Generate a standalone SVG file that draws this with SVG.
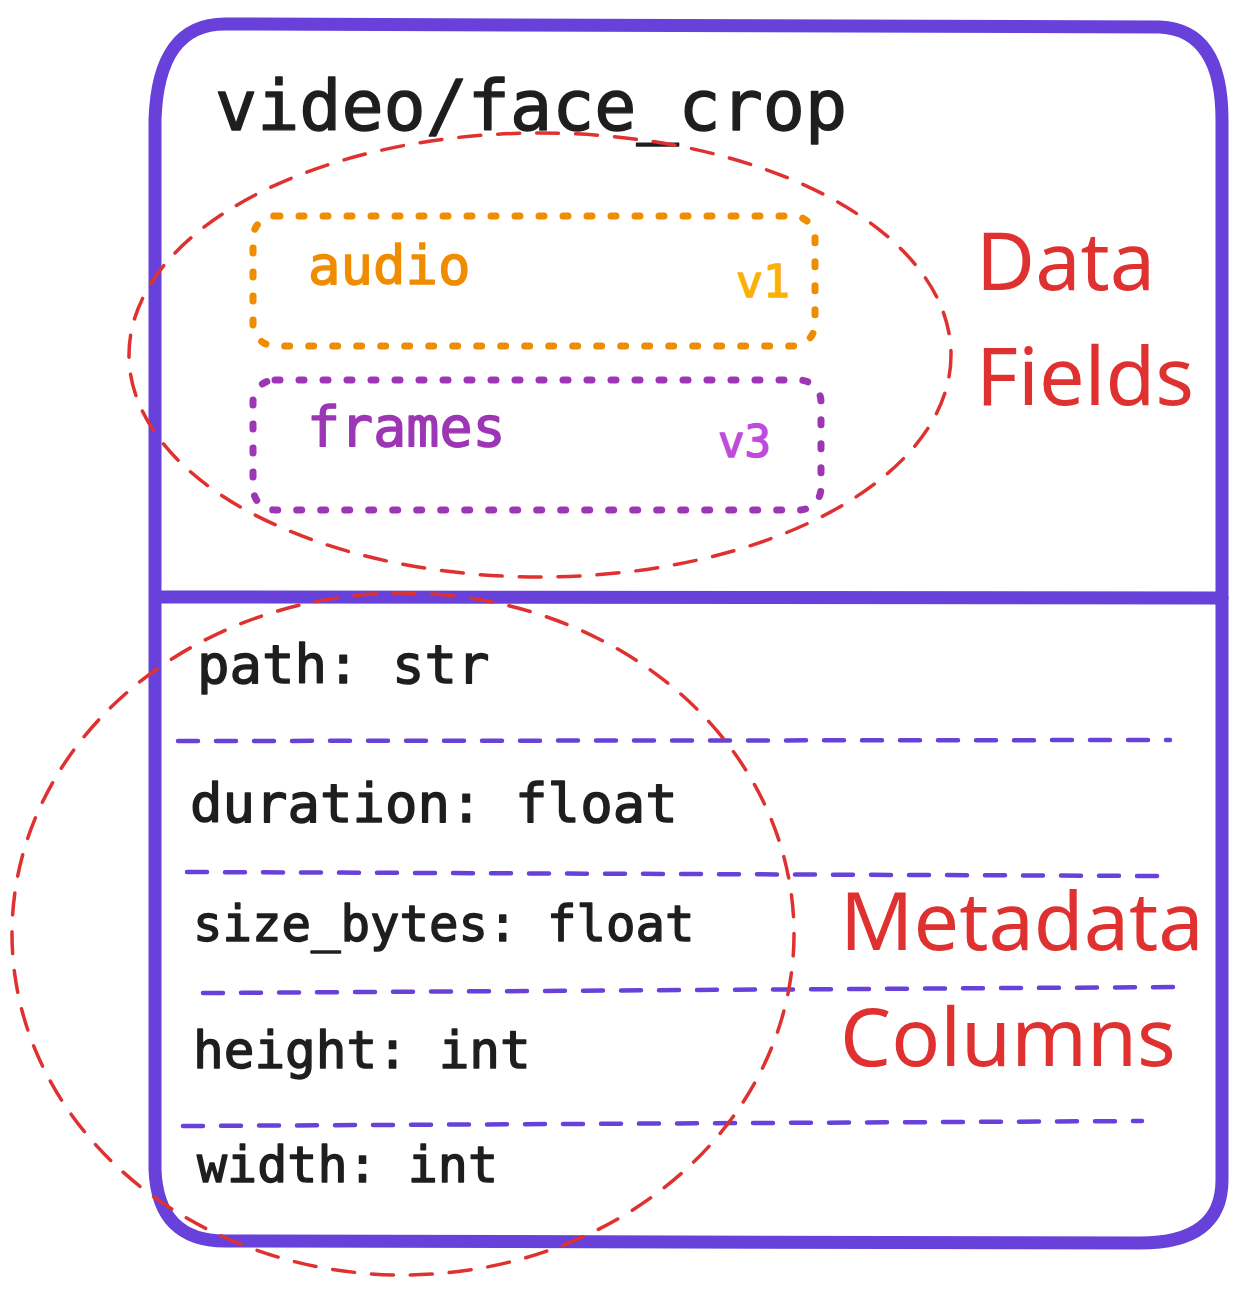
<svg xmlns="http://www.w3.org/2000/svg" width="1260" height="1304" viewBox="0 0 1260 1304">
  <style>
    .mono { font-family: "DejaVu Sans Mono", "Liberation Mono", monospace; fill: #1e1e1e; stroke: #1e1e1e; stroke-width: 1.4; stroke-linejoin: round; }
    .label { font-family: "Noto Sans", "Open Sans", sans-serif; fill: #e03131; font-size: 81px; }
    .frame { fill: none; stroke: #6741d9; stroke-width: 13; stroke-linecap: round; stroke-linejoin: round; }
    .sep { fill: none; stroke: #6741d9; stroke-width: 4.5; stroke-dasharray: 20 18; stroke-linecap: round; }
    .circ { fill: none; stroke: #e03131; stroke-width: 3.5; stroke-dasharray: 22 17; stroke-linecap: round; }
    .dots { fill: none; stroke-width: 7; stroke-dasharray: 5 19; stroke-linecap: round; }
  </style>
  <rect width="1260" height="1304" fill="#ffffff"/>

  <g id="table">
    <path class="frame" d="M 225 24 L 1160 27 Q 1222 30 1222 120 L 1222 1180 Q 1222 1243 1140 1243 L 225 1241 Q 158 1241 155 1170 L 155 120 Q 158 24 225 24 Z"/>
    <path class="frame" d="M 162 597 L 1222 598" stroke-width="14"/>
    <text class="mono" x="215" y="130" font-size="70">video/face_crop</text>
  </g>

  <g id="field-audio">
    <rect class="dots" x="253" y="216" width="562" height="130" rx="22" stroke="#f08c00"/>
    <text class="mono" x="308" y="284" font-size="54" style="fill:#f08c00;stroke:#f08c00">audio</text>
    <text class="mono" x="736" y="297" font-size="45" style="fill:#fab005;stroke:#fab005">v1</text>
  </g>

  <g id="field-frames">
    <rect class="dots" x="253" y="380" width="568" height="130" rx="22" stroke="#9c36b5"/>
    <text class="mono" x="307" y="446" font-size="55" style="fill:#9c36b5;stroke:#9c36b5">frames</text>
    <text class="mono" x="718" y="457" font-size="44" style="fill:#be4bdb;stroke:#be4bdb">v3</text>
  </g>

  <g id="separators">
    <path class="sep" d="M 178 741 L 1170 740"/>
    <path class="sep" d="M 187 872 L 1165 876"/>
    <path class="sep" d="M 203 993 L 1180 987"/>
    <path class="sep" d="M 183 1126 L 1142 1121"/>
  </g>

  <g id="columns">
    <text class="mono" x="197" y="683" font-size="54">path: str</text>
    <text class="mono" x="190" y="822" font-size="54">duration: float</text>
    <text class="mono" x="193" y="941" font-size="49">size_bytes: float</text>
    <text class="mono" x="193" y="1068" font-size="51">height: int</text>
    <text class="mono" x="197" y="1182" font-size="50">width: int</text>
  </g>

  <g id="data-fields-group">
    <ellipse class="circ" cx="540" cy="355" rx="411" ry="222"/>
    <text class="label" x="976" y="290">Data</text>
    <text class="label" x="976" y="405">Fields</text>
  </g>

  <g id="metadata-columns-group">
    <ellipse class="circ" cx="403" cy="934" rx="391" ry="341"/>
    <text class="label" x="840" y="950">Metadata</text>
    <text class="label" x="840" y="1066">Columns</text>
  </g>
</svg>
